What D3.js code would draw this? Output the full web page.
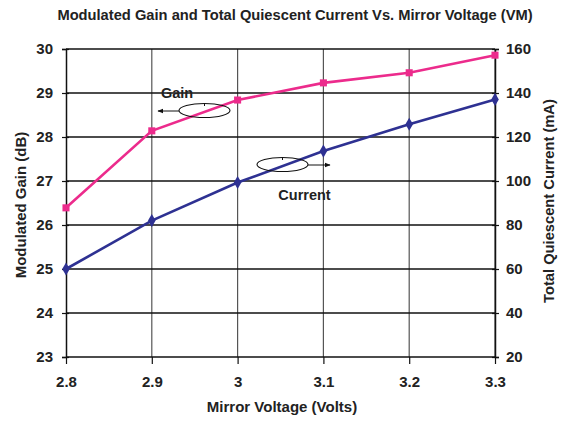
<!DOCTYPE html>
<html><head><meta charset="utf-8">
<script src="https://cdn.jsdelivr.net/npm/d3@7"></script>
<style>
body{margin:0;background:#fff;}
text{font-family:"Liberation Sans",Arial,sans-serif;font-weight:bold;fill:#222;}
</style></head>
<body><svg id="c" width="562" height="422"></svg>
<script>
const voltages = [2.8, 2.9, 3.0, 3.1, 3.2, 3.3];
const gainDb = [26.39, 28.14, 28.84, 29.23, 29.46, 29.86];
const currentMa = [60, 82, 99.3, 113.6, 125.8, 137.1];
const xTicks = [2.8, 2.9, 3.0, 3.1, 3.2, 3.3];
const leftTicks = [23, 24, 25, 26, 27, 28, 29, 30];
const rightTicks = [20, 40, 60, 80, 100, 120, 140, 160];

const svg = d3.select("#c");
const L = 66, R = 495, T = 49, B = 357;
const x = d3.scaleLinear().domain([2.8, 3.3]).range([L, R]);
const yL = d3.scaleLinear().domain([23, 30]).range([B, T]);
const yR = d3.scaleLinear().domain([20, 160]).range([B, T]);

// vertical gridlines
svg.append("g").selectAll("line").data(xTicks.slice(1)).join("line")
  .attr("x1", d => x(d)).attr("x2", d => x(d)).attr("y1", T).attr("y2", B)
  .attr("stroke", "#555").attr("stroke-width", 1.2);
// horizontal gridlines
svg.append("g").selectAll("line").data(leftTicks.slice(1)).join("line")
  .attr("x1", L).attr("x2", R).attr("y1", d => yL(d)).attr("y2", d => yL(d))
  .attr("stroke", "#111").attr("stroke-width", 1.6);

// axes
const fmtX = d => String(+d.toFixed(1));
const gx = svg.append("g").attr("transform", `translate(0,${B})`)
  .call(d3.axisBottom(x).tickValues(xTicks).tickSize(7).tickPadding(12).tickFormat(fmtX));
const gl = svg.append("g").attr("transform", `translate(${L},0)`)
  .call(d3.axisLeft(yL).tickValues(leftTicks).tickSize(4).tickPadding(9).tickFormat(d3.format("d")));
const gr = svg.append("g").attr("transform", `translate(${R},0)`)
  .call(d3.axisRight(yR).tickValues(rightTicks).tickSize(4).tickPadding(7).tickFormat(d3.format("d")));
[gx, gl, gr].forEach(g => {
  g.select(".domain").attr("stroke", "#111").attr("stroke-width", 1.5);
  g.selectAll(".tick line").attr("stroke", "#111").attr("stroke-width", 1.2);
  g.selectAll(".tick text").style("font-size", "15px").style("font-family", "'Liberation Sans',Arial,sans-serif").style("font-weight", "bold").attr("fill", "#222");
});
gl.selectAll(".tick line").attr("x1", 3);
gr.selectAll(".tick line").attr("x1", -3);
gx.select(".domain").attr("d", `M${L},0H${R}`);

// lines
const pink = "#EC2B8C", navy = "#2E3192";
const gainData = voltages.map((v, i) => [v, gainDb[i]]);
const curData = voltages.map((v, i) => [v, currentMa[i]]);
svg.append("path").datum(gainData)
  .attr("d", d3.line().x(d => x(d[0])).y(d => yL(d[1])))
  .attr("fill", "none").attr("stroke", pink).attr("stroke-width", 2.6);
svg.append("path").datum(curData)
  .attr("d", d3.line().x(d => x(d[0])).y(d => yR(d[1])))
  .attr("fill", "none").attr("stroke", navy).attr("stroke-width", 2.6);
svg.append("g").selectAll("path").data(gainData).join("path")
  .attr("d", d3.symbol(d3.symbolSquare, 50))
  .attr("transform", d => `translate(${x(d[0])},${yL(d[1])})`).attr("fill", pink);
svg.append("g").selectAll("path").data(curData).join("path")
  .attr("d", d3.symbol(d3.symbolDiamond, 50))
  .attr("transform", d => `translate(${x(d[0])},${yR(d[1])})`).attr("fill", navy);

// annotations
const defs = svg.append("defs");
defs.append("marker").attr("id", "ah").attr("viewBox", "0 0 10 10").attr("refX", 9).attr("refY", 5)
  .attr("markerWidth", 6).attr("markerHeight", 6).attr("orient", "auto-start-reverse")
  .append("path").attr("d", "M0,1L10,5L0,9Z").attr("fill", "#111");

function callout(cx, cy, ax2) {
  svg.append("ellipse").attr("cx", cx).attr("cy", cy).attr("rx", 25.5).attr("ry", 7)
    .attr("fill", "none").attr("stroke", "#111").attr("stroke-width", 1.1);
  svg.append("line").attr("x1", cx).attr("x2", cx).attr("y1", cy - 7).attr("y2", cy - 4.5)
    .attr("stroke", "#111").attr("stroke-width", 1);
  const x1 = ax2 < cx ? cx - 25.5 : cx + 25.5;
  svg.append("line").attr("x1", x1).attr("y1", cy + 0.5).attr("x2", ax2).attr("y2", cy + 0.5)
    .attr("stroke", "#111").attr("stroke-width", 1).attr("marker-end", "url(#ah)");
}
callout(204.5, 110.5, 158);
callout(282.5, 164.5, 330);
svg.append("text").attr("x", 177).attr("y", 98).attr("text-anchor", "middle").style("font-size", "14.5px").text("Gain");
svg.append("text").attr("x", 304.5).attr("y", 200).attr("text-anchor", "middle").style("font-size", "14.5px").text("Current");

// titles
svg.append("text").attr("x", 295).attr("y", 19.5).attr("text-anchor", "middle").style("font-size", "14.7px")
  .text("Modulated Gain and Total Quiescent Current Vs. Mirror Voltage (VM)");
svg.append("text").attr("x", 282).attr("y", 412).attr("text-anchor", "middle").style("font-size", "15px")
  .text("Mirror Voltage (Volts)");
svg.append("text").attr("transform", "translate(21,205) rotate(-90)").attr("dy", "0.35em").attr("text-anchor", "middle").style("font-size", "15px")
  .text("Modulated Gain (dB)");
svg.append("text").attr("transform", "translate(549,201) rotate(-90)").attr("dy", "0.35em").attr("text-anchor", "middle").style("font-size", "14.7px")
  .text("Total Quiescent Current (mA)");
</script></body></html>
